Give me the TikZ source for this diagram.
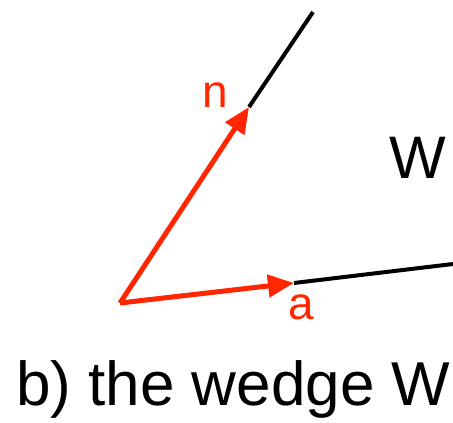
\documentclass[tikz,border=0pt]{standalone}
\usepackage{fontspec}
\setmainfont{Liberation Sans}
\usetikzlibrary{arrows.meta}
\definecolor{vecred}{HTML}{FF2600}
\begin{document}
\begin{tikzpicture}[x=1pt,y=-1pt,
  blackline/.style={draw=black,line width=4pt},
  redvec/.style={draw=vecred,line width=5pt,-{Triangle[length=26pt,width=22pt]}},
  redlabel/.style={text=vecred,inner sep=0pt,font=\fontsize{46}{46}\selectfont},
  biglabel/.style={text=black,inner sep=0pt,font=\fontsize{60}{60}\selectfont}]
\useasboundingbox (0,0) rectangle (453,423);
\coordinate (o) at (120,303);
\coordinate (ntip) at (249,107);
\coordinate (ntop) at (313,12);
\coordinate (atip) at (294,283);
\coordinate (aend) at (453,264);
\draw[blackline] (ntip) -- (ntop);
\draw[blackline] (atip) -- (aend);
\draw[redvec] (o) -- (ntip);
\draw[redvec] (o) -- (atip);
\node[redlabel] (nlab) at (215,95) {n};
\node[redlabel] (alab) at (301,307) {a};
\node[biglabel] (wlab) at (418,158) {W};
\node[inner sep=0pt,anchor=base west,font=\fontsize{62}{62}\selectfont] (cap) at (16,405) {b) the wedge W};
\end{tikzpicture}
\end{document}
